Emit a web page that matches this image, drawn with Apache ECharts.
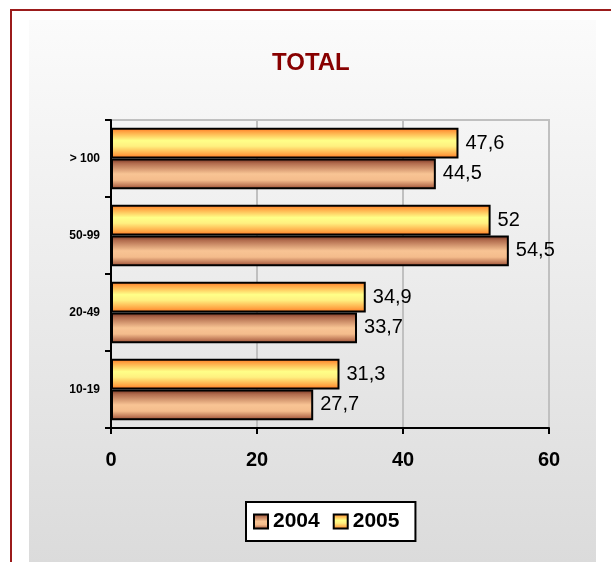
<!DOCTYPE html>
<html><head><meta charset="utf-8">
<script src="https://cdn.jsdelivr.net/npm/echarts@6/dist/echarts.min.js"></script>
<style>html,body{margin:0;padding:0;background:#fff}#c{width:611px;height:562px}</style>
</head><body><div id="c"></div>
<script>
var categories = ['10-19', '20-49', '50-99', '> 100'];
var seriesNames = ['2004', '2005'];
var values2004 = [27.7, 33.7, 54.5, 44.5];
var values2005 = [31.3, 34.9, 52, 47.6];
var xTicks = [0, 20, 40, 60];

var chart = echarts.init(document.getElementById('c'), null, {renderer: 'canvas'});
var FONT = 'Arial, "Liberation Sans", sans-serif';

function grad(stops) {
  return new echarts.graphic.LinearGradient(0, 0, 0, 1, stops.map(function (s) { return {offset: s[0], color: s[1]}; }));
}
var grad2005 = grad([[0, '#ff6f1c'], [0.12, '#ffa040'], [0.42, '#ffff88'], [0.6, '#fff080'], [0.88, '#ffa040'], [1, '#ff6a18']]);
var grad2004 = grad([[0, '#6e2c1c'], [0.15, '#b06a4c'], [0.5, '#f8c494'], [0.7, '#f4bc8c'], [0.9, '#b87050'], [1, '#7a3620']]);

function fmt(p) { return String(p.value).replace('.', ','); }
var labelStyle = {show: true, position: 'right', distance: 7, color: '#000', fontFamily: FONT, fontSize: 20, formatter: fmt};

chart.setOption({
  animation: false,
  backgroundColor: '#ffffff',
  graphic: [
    {type: 'rect', z: -10, shape: {x: 11, y: 10, width: 700, height: 700},
     style: {fill: '#ffffff', stroke: '#9b1b1b', lineWidth: 2}},
    {type: 'rect', z: -9, shape: {x: 29, y: 20, width: 567, height: 560},
     style: {fill: new echarts.graphic.LinearGradient(0, 0, 0, 1, [
       {offset: 0, color: '#fbfbfb'}, {offset: 1, color: '#dadada'}])}},
    {type: 'text', z: 10, left: 272, top: 51,
     style: {text: 'TOTAL', fill: '#880000', font: 'bold 24px ' + FONT}}
  ],
  grid: {left: 111, right: 62, top: 120, bottom: 134, show: true,
         borderColor: '#c0c0c0', borderWidth: 2, backgroundColor: 'transparent'},
  legend: {
    data: seriesNames, left: 246, top: 502,
    backgroundColor: '#ffffff', borderColor: '#000000', borderWidth: 2, borderRadius: 0,
    padding: [9, 16, 9, 7], itemGap: 13, itemWidth: 14, itemHeight: 14,
    icon: 'rect',
    textStyle: {fontFamily: FONT, fontWeight: 'bold', fontSize: 21, color: '#000'}
  },
  xAxis: {
    type: 'value', min: 0, max: 60, interval: 20,
    axisLine: {show: true, lineStyle: {color: '#000', width: 2}},
    axisTick: {show: true, length: 6, lineStyle: {color: '#000', width: 2}},
    splitLine: {show: true, lineStyle: {color: '#c0c0c0', width: 2}},
    axisLabel: {margin: 22, color: '#000', fontFamily: FONT, fontWeight: 'bold', fontSize: 20,
      formatter: function (v) { return xTicks.indexOf(v) >= 0 ? String(v) : ''; }}
  },
  yAxis: {
    type: 'category', data: categories,
    axisLine: {show: true, lineStyle: {color: '#000', width: 2}},
    axisTick: {show: true, length: 6, lineStyle: {color: '#000', width: 2}},
    splitLine: {show: false},
    axisLabel: {margin: 11, color: '#000', fontFamily: FONT, fontWeight: 'bold', fontSize: 12}
  },
  series: [
    {name: '2005', type: 'bar', data: values2005, barGap: '0%', barCategoryGap: '20%',
     itemStyle: {color: grad2005, borderColor: '#000', borderWidth: 2},
     label: labelStyle},
    {name: '2004', type: 'bar', data: values2004, barGap: '0%', barCategoryGap: '20%',
     itemStyle: {color: grad2004, borderColor: '#000', borderWidth: 2},
     label: labelStyle}
  ]
});
</script></body></html>
